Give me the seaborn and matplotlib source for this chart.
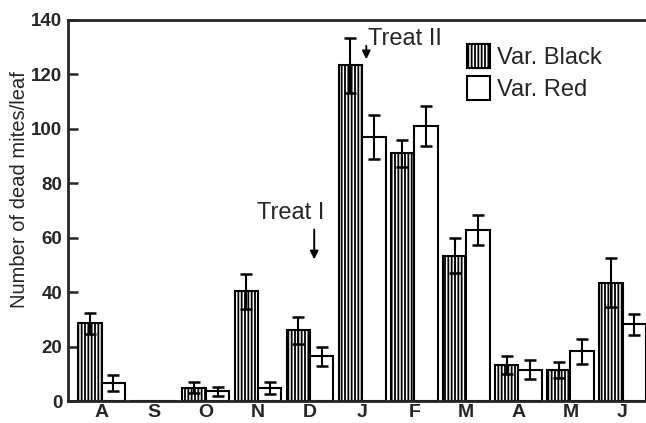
import pandas as pd
import matplotlib.pyplot as plt
import seaborn as sns
from matplotlib.patches import Patch

# months Aug .. Jun, single letter labels on the axis
periods = ["Aug", "Sep", "Oct", "Nov", "Dec", "Jan", "Feb", "Mar", "Apr", "May", "Jun"]
tick_labels = ["A", "S", "O", "N", "D", "J", "F", "M", "A", "M", "J"]

black = [28.5, 0.0, 4.8, 40.3, 26.0, 123.3, 91.0, 53.4, 13.3, 11.4, 43.5]
red = [6.5, 0.0, 3.5, 4.8, 16.4, 97.0, 101.0, 62.8, 11.5, 18.2, 28.2]
black_err = [4.0, 0.0, 2.0, 6.5, 5.0, 10.0, 5.0, 6.5, 3.3, 2.8, 9.0]
red_err = [3.0, 0.0, 1.8, 2.2, 3.6, 8.0, 7.5, 5.5, 3.5, 4.5, 3.8]

varieties = ["Var. Black", "Var. Red"]

df = pd.DataFrame({
    "period": periods * 2,
    "variety": [varieties[0]] * len(periods) + [varieties[1]] * len(periods),
    "dead": black + red,
})

sns.set_theme(style="ticks")
plt.rcParams["font.family"] = ["Liberation Sans", "DejaVu Sans"]
plt.rcParams["hatch.linewidth"] = 1.3
plt.rcParams["hatch.color"] = "black"

fig = plt.figure(figsize=(6.46, 4.23), dpi=100)
ax = fig.add_axes([0.105, 0.052, 0.895, 0.901])

sns.barplot(data=df, x="period", y="dead", hue="variety", order=periods,
            hue_order=varieties, palette=["white", "white"], width=0.9,
            edgecolor="black", linewidth=1.5, legend=False, ax=ax)

for bar in ax.containers[0]:
    bar.set_hatch("|||||")

for cont, err in zip(ax.containers, [black_err, red_err]):
    xs = [b.get_x() + b.get_width() / 2 for b in cont]
    ys = [b.get_height() for b in cont]
    e = [v if v > 0 else float("nan") for v in err]
    ax.errorbar(xs, ys, yerr=e, fmt="none", ecolor="black",
                elinewidth=1.5, capsize=4, capthick=1.8)

ax.set_ylim(0, 140)
ax.set_xlim(-0.65, 10.45)
ax.set_yticks(range(0, 141, 20))
ax.set_xticks(range(len(periods)))
ax.set_xticklabels(tick_labels)
ax.tick_params(axis="y", direction="in", length=7, width=1.8, pad=4, labelsize=13.5)
ax.tick_params(axis="x", length=0, pad=2, labelsize=14)
for t in ax.get_yticklabels() + ax.get_xticklabels():
    t.set_fontweight("bold")

ax.set_xlabel("")
ax.set_ylabel("Number of dead mites/leaf", fontsize=14.5)
ax.yaxis.set_label_coords(-0.068, 0.555)

for s in ["left", "bottom", "top"]:
    ax.spines[s].set_linewidth(2)
ax.spines["right"].set_visible(False)

# treatment arrows
ax.annotate("", xy=(4.08, 51), xytext=(4.08, 64),
            arrowprops=dict(arrowstyle="-|>", color="black", lw=1.4))
ax.text(3.62, 69, "Treat I", ha="center", va="center", fontsize=17)
ax.annotate("", xy=(5.08, 124.5), xytext=(5.08, 131.5),
            arrowprops=dict(arrowstyle="-|>", color="black", lw=1.4))
ax.text(5.12, 133, "Treat II", ha="left", va="center", fontsize=17)

handles = [Patch(facecolor="white", edgecolor="black", hatch="|||||", linewidth=1.5),
           Patch(facecolor="white", edgecolor="black", linewidth=1.5)]
ax.legend(handles, varieties, loc="upper left", bbox_to_anchor=(0.69, 0.937),
          frameon=False, fontsize=17, handlelength=1.0, handleheight=1.2,
          handletextpad=0.3, labelspacing=0.3, borderaxespad=0, borderpad=0)

fig.savefig("out.png", dpi=100)
